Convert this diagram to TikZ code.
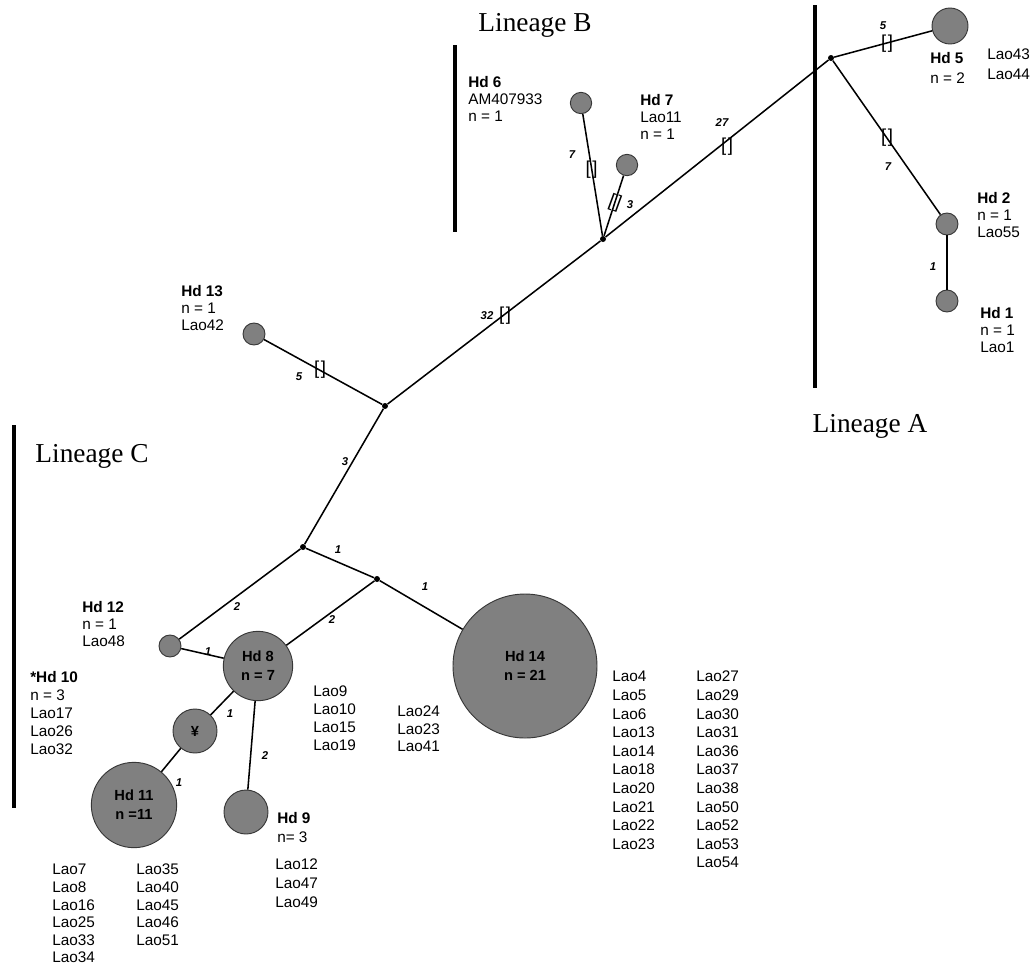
\documentclass[tikz,border=0pt]{standalone}
\usepackage{fontspec}
\setmainfont{Liberation Sans}
\newfontfamily\serifA{Liberation Serif}
\definecolor{hapgray}{RGB}{128,128,128}
\definecolor{hapline}{RGB}{55,55,55}
\begin{document}
\begin{tikzpicture}[x=0.75pt,y=-0.75pt,
 hap/.style={circle,draw=hapline,fill=hapgray,line width=0.7pt,inner sep=0pt,align=center,font=\bfseries\fontsize{11}{14}\selectfont},
 junc/.style={circle,fill=black,inner sep=0pt,minimum size=4.5pt},
 edge/.style={line width=1.15pt,black},
 elab/.style={font=\fontsize{8.5}{8.5}\selectfont\bfseries\itshape,inner sep=0pt},
 brk/.style={font=\fontsize{14}{14}\selectfont,inner sep=0pt},
 lab/.style={anchor=north west,inner sep=0pt,align=left,font=\fontsize{11.5}{12.75}\selectfont},
 lst/.style={anchor=north west,inner sep=0pt,align=left,font=\fontsize{11.5}{14}\selectfont},
 bar/.style={line width=3pt},
 lin/.style={font=\serifA\fontsize{20.5}{20}\selectfont,inner sep=0pt}]
\useasboundingbox (0,0) rectangle (1034,972);

% lineage bars
\draw[bar] (455,45) -- (455,232);
\draw[bar] (815,5) -- (815,388);
\draw[bar] (14,425) -- (14,808);
\node[lin] (LB) at (535,25) {Lineage B};
\node[lin] (LA) at (870,426) {Lineage A};
\node[lin] (LC) at (92,456) {Lineage C};

% junctions
\node[junc] (J1) at (831,58) {};
\node[junc] (J2) at (603,239) {};
\node[junc] (J3) at (385,406) {};
\node[junc] (J4) at (303,547) {};
\node[junc] (J5) at (377,579) {};

% haplotypes
\node[hap,minimum size=27pt] (H5) at (950,26) {};
\node[hap,minimum size=16.5pt] (H2) at (947,224) {};
\node[hap,minimum size=16.5pt] (H1) at (947,301) {};
\node[hap,minimum size=16pt] (H6) at (581,103) {};
\node[hap,minimum size=16pt] (H7) at (627,165) {};
\node[hap,minimum size=16.5pt] (H13) at (254,334) {};
\node[hap,minimum size=16.5pt] (H12) at (170,646) {};
\node[hap,minimum size=52pt] (H8) at (258,666) {Hd 8\\n = 7};
\node[hap,minimum size=33pt] (HY) at (195,731) {¥};
\node[hap,minimum size=64pt] (H11) at (134,805) {Hd 11\\n =11};
\node[hap,minimum size=33pt] (H9) at (246,812) {};
\node[hap,minimum size=108pt] (H14) at (525,666) {Hd 14\\n = 21};

% connectors
\draw[edge] (J1) -- (H5);
\draw[edge] (J1) -- (H2);
\draw[edge] (H2) -- (H1);
\draw[edge] (J2) -- (J1);
\draw[edge] (J2) -- (H6);
\draw[edge] (J2) -- (H7);
\draw[edge] (J3) -- (J2);
\draw[edge] (J3) -- (H13);
\draw[edge] (J4) -- (J3);
\draw[edge] (J4) -- (J5);
\draw[edge] (J5) -- (H14);
\draw[edge] (J4) -- (H12);
\draw[edge] (J5) -- (H8);
\draw[edge] (H12) -- (H8);
\draw[edge] (H8) -- (HY);
\draw[edge] (HY) -- (H11);
\draw[edge] (H8) -- (H9);

% edge labels and brackets
\node[elab] (e5a) at (883,26) {5};
\node[brk] (b5a) at (887,44) {[\kern1.2pt]};
\node[elab] (e7a) at (888,167) {7};
\node[brk] (b7a) at (887,138) {[\kern1.2pt]};
\node[elab] (e27) at (722,123) {27};
\node[brk] (b27) at (727,147) {[\kern1.2pt]};
\node[elab] (e1a) at (933,267) {1};
\node[elab] (e7b) at (572,155) {7};
\node[brk] (b7b) at (591.5,170) {[\kern1.2pt]};
\node[elab] (e3a) at (630,205) {3};
\node[brk,rotate=-20] (b3a) at (615,203) {[\kern1.2pt]};
\node[elab] (e32) at (487,316) {32};
\node[brk] (b32) at (505,316) {[\kern1.2pt]};
\node[elab] (e5b) at (299,377) {5};
\node[brk] (b5b) at (320,370) {[\kern1.2pt]};
\node[elab] (e3b) at (345,462) {3};
\node[elab] (e1b) at (338,550) {1};
\node[elab] (e1c) at (425,587) {1};
\node[elab] (e2a) at (237,607) {2};
\node[elab] (e2b) at (332,620) {2};
\node[elab] (e1d) at (208,652) {1};
\node[elab] (e1e) at (230,714) {1};
\node[elab] (e1f) at (179,783) {1};
\node[elab] (e2c) at (265,756) {2};

% text labels
\node[lab] (t6) at (468,76) {\textbf{Hd 6}\\AM407933\\n = 1};
\node[lab] (t7) at (640,94) {\textbf{Hd 7}\\Lao11\\n = 1};
\node[lab,font=\fontsize{11.5}{15}\selectfont] (t5) at (930,52) {\textbf{Hd 5}\\n = 2};
\node[lab,font=\fontsize{11.5}{15}\selectfont] (t5l) at (987,49) {Lao43\\Lao44};
\node[lab] (t2) at (977,192) {\textbf{Hd 2}\\n = 1\\Lao55};
\node[lab] (t1) at (980,307) {\textbf{Hd 1}\\n = 1\\Lao1};
\node[lab] (t13) at (181,285) {\textbf{Hd 13}\\n = 1\\Lao42};
\node[lab] (t12) at (82,601) {\textbf{Hd 12}\\n = 1\\Lao48};
\node[lst,font=\fontsize{11.5}{13.6}\selectfont] (t10) at (30,671) {\textbf{*Hd 10}\\n = 3\\Lao17\\Lao26\\Lao32};
\node[lst,font=\fontsize{11.5}{13.5}\selectfont] (l8a) at (313,686) {Lao9\\Lao10\\Lao15\\Lao19};
\node[lst,font=\fontsize{11.5}{13}\selectfont] (l8b) at (397,706) {Lao24\\Lao23\\Lao41};
\node[lst,font=\fontsize{11.5}{13.95}\selectfont] (l14a) at (612,671) {Lao4\\Lao5\\Lao6\\Lao13\\Lao14\\Lao18\\Lao20\\Lao21\\Lao22\\Lao23};
\node[lst,font=\fontsize{11.5}{13.95}\selectfont] (l14b) at (696,671) {Lao27\\Lao29\\Lao30\\Lao31\\Lao36\\Lao37\\Lao38\\Lao50\\Lao52\\Lao53\\Lao54};
\node[lab,font=\fontsize{11.5}{14}\selectfont] (t9) at (277,812) {\textbf{Hd 9}\\n= 3};
\node[lst,font=\fontsize{11.5}{14.2}\selectfont] (l9) at (275,859) {Lao12\\Lao47\\Lao49};
\node[lst,font=\fontsize{11.5}{13.2}\selectfont] (l11a) at (52,864) {Lao7\\Lao8\\Lao16\\Lao25\\Lao33\\Lao34};
\node[lst,font=\fontsize{11.5}{13.2}\selectfont] (l11b) at (136,864) {Lao35\\Lao40\\Lao45\\Lao46\\Lao51};
\end{tikzpicture}
\end{document}
